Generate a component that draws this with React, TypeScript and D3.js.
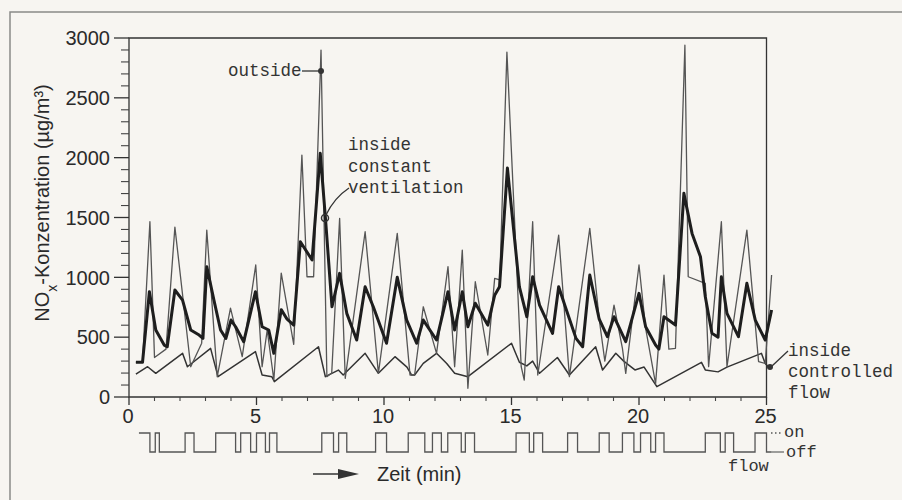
import React from "react";
import * as d3 from "d3";

// outside (thin, spiky)
const outsideT = [0.27, 0.53, 0.82, 1.0, 1.45, 1.8, 2.42, 2.85, 3.05, 3.46, 3.98, 4.44, 4.97, 5.22, 5.42, 5.68, 5.97, 6.46, 6.78, 6.98, 7.24, 7.53, 7.76, 7.95, 8.26, 8.48, 9.26, 9.78, 10.52, 11.02, 11.2, 11.54, 12.06, 12.51, 12.77, 13.07, 13.29, 13.58, 14.07, 14.34, 14.54, 14.82, 15.38, 15.5, 15.83, 16.03, 16.85, 17.27, 18.07, 18.44, 18.66, 19.02, 19.35, 19.48, 20.0, 20.26, 20.46, 20.65, 20.98, 21.17, 21.43, 21.8, 21.93, 22.6, 22.73, 23.23, 23.45, 24.23, 24.69, 24.95, 25.2];
const outsideV = [290, 290, 1465, 330, 400, 1420, 253, 450, 1395, 170, 743, 337, 1103, 253, 560, 142, 1035, 440, 2022, 1005, 1005, 2899, 170, 200, 1493, 156, 1381, 198, 1367, 184, 184, 754, 365, 1089, 253, 1228, 73, 963, 351, 991, 978, 2882, 253, 142, 1465, 184, 1353, 170, 1409, 650, 300, 768, 407, 198, 1103, 574, 337, 110, 1019, 400, 407, 2940, 1005, 950, 253, 1465, 253, 1395, 295, 280, 1019];

// inside, constant ventilation (thick)
const constT = [0.27, 0.53, 0.8, 1.05, 1.38, 1.5, 1.8, 2.1, 2.42, 2.75, 2.9, 3.05, 3.33, 3.59, 3.8, 4.0, 4.18, 4.5, 4.96, 5.22, 5.48, 5.68, 5.97, 6.2, 6.46, 6.72, 7.18, 7.5, 7.7, 7.96, 8.26, 8.54, 8.93, 9.26, 9.58, 10.1, 10.52, 10.89, 11.28, 11.54, 12.06, 12.51, 12.77, 13.07, 13.29, 13.58, 14.07, 14.34, 14.53, 14.84, 15.31, 15.6, 15.83, 16.1, 16.61, 16.85, 17.1, 17.53, 17.79, 18.07, 18.44, 18.76, 19.02, 19.48, 20.0, 20.26, 20.65, 20.78, 20.98, 21.43, 21.76, 22.08, 22.41, 22.6, 22.86, 23.1, 23.23, 23.45, 23.9, 24.23, 24.56, 24.95, 25.2];
const constV = [290, 290, 880, 560, 434, 420, 894, 810, 560, 518, 490, 1089, 810, 560, 490, 643, 587, 462, 880, 587, 560, 365, 730, 650, 601, 1297, 1145, 2036, 1506, 754, 1033, 699, 476, 921, 754, 449, 1000, 643, 449, 643, 476, 880, 560, 880, 587, 783, 601, 850, 921, 1913, 921, 671, 1005, 768, 532, 921, 760, 490, 420, 1019, 650, 504, 671, 462, 866, 587, 434, 400, 671, 601, 1702, 1367, 1172, 838, 532, 500, 1005, 699, 504, 950, 643, 476, 727];

// inside, controlled flow (sawtooth)
const ctrlT = [0.27, 0.73, 1.05, 2.1, 2.29, 3.2, 3.49, 4.96, 5.22, 5.6, 5.7, 7.43, 7.7, 8.21, 8.4, 9.26, 9.78, 10.43, 10.9, 11.08, 11.2, 11.54, 12.06, 12.46, 12.77, 13.29, 15.0, 15.31, 15.6, 15.83, 16.1, 16.8, 17.27, 18.3, 18.57, 19.09, 19.4, 19.84, 20.2, 20.7, 22.45, 22.6, 23.1, 23.45, 24.8, 24.95, 25.08];
const ctrlV = [192, 253, 198, 365, 253, 406, 170, 379, 184, 170, 128, 420, 170, 225, 184, 365, 198, 337, 250, 184, 184, 281, 365, 280, 198, 170, 449, 290, 260, 300, 198, 330, 184, 420, 226, 365, 300, 226, 250, 86, 290, 226, 210, 250, 365, 280, 250];

// flow "on" intervals (min)
const flowOn: [number, number][] = [
  [0.39, 0.82], [1.03, 1.19], [2.2, 2.55], [3.4, 4.18], [4.38, 4.77], [5.0, 5.35], [5.51, 5.8],
  [7.56, 8.02], [8.22, 8.54], [9.67, 10.1], [10.95, 11.6], [11.9, 12.25], [12.5, 13.03], [13.19, 13.55],
  [15.18, 15.7], [15.87, 16.22], [17.2, 17.59], [18.44, 18.83], [19.35, 19.8], [20.06, 20.46], [20.65, 20.98],
  [22.6, 23.19], [23.38, 23.71], [24.55, 25.0],
];

const yMajor = [0, 500, 1000, 1500, 2000, 2500, 3000];
const xMajor = [0, 5, 10, 15, 20, 25];

const sans = "'Liberation Sans', Arial, sans-serif";
const mono = "'Liberation Mono', 'DejaVu Sans Mono', monospace";

export default function App() {
  const x = d3.scaleLinear().domain([0, 25]).range([129, 766.5]);
  const y = d3.scaleLinear().domain([0, 3000]).range([397, 38]);
  const fy = d3.scaleLinear().domain([0, 1]).range([452, 433]);

  const line = d3.line<[number, number]>().x((d) => x(d[0])).y((d) => y(d[1]));
  const zip = (t: number[], v: number[]) => t.map((ti, i) => [ti, v[i]] as [number, number]);

  const flowPts: [number, number][] = [];
  flowOn.forEach(([a, b], i) => {
    if (i > 0) flowPts.push([a, 0]);
    flowPts.push([a, 1], [b, 1], [b, 0]);
  });
  flowPts.push([25.18, 0]);
  const flowLine = d3.line<[number, number]>().x((d) => x(d[0])).y((d) => fy(d[1]));

  const yMinor = d3.range(0, 3001, 100).filter((v) => v % 500 !== 0);
  const xMinor = d3.range(0, 26, 1).filter((v) => v % 5 !== 0);

  return (
    <svg width={902} height={500} style={{ position: "fixed", left: 0, top: 0 }}>
      <rect width={902} height={500} fill="#f7f5f1" />
      <path d="M10,500 L10,12 L902,12" fill="none" stroke="#8a8a88" strokeWidth={1.5} />

      {/* frame */}
      <path d={`M${x(0)},${y(0)} L${x(0)},${y(3000)} L${x(25)},${y(3000)} L${x(25)},${y(0)} Z`} fill="none" stroke="#333" strokeWidth={1.3} />

      {/* y ticks */}
      {yMajor.map((v) => (
        <g key={v}>
          <line x1={x(0) - 15} x2={x(0)} y1={y(v)} y2={y(v)} stroke="#333" strokeWidth={1.3} />
          <text x={110} y={y(v)} dy="0.36em" textAnchor="end" fontFamily={sans} fontSize={20} fill="#2a2a2a">{v}</text>
        </g>
      ))}
      {yMinor.map((v) => (
        <line key={v} x1={x(0) - 8} x2={x(0)} y1={y(v)} y2={y(v)} stroke="#444" strokeWidth={1.1} />
      ))}

      {/* x ticks */}
      {xMajor.map((t) => (
        <g key={t}>
          <line x1={x(t)} x2={x(t)} y1={y(0)} y2={y(0) + 8} stroke="#333" strokeWidth={1.3} />
          <text x={x(t) - 1} y={423} textAnchor="middle" fontFamily={sans} fontSize={20} fill="#2a2a2a">{t}</text>
        </g>
      ))}
      {xMinor.map((t) => (
        <line key={t} x1={x(t)} x2={x(t)} y1={y(0)} y2={y(0) + 4} stroke="#444" strokeWidth={1.1} />
      ))}

      {/* series */}
      <path d={line(zip(ctrlT, ctrlV)) || ""} fill="none" stroke="#333" strokeWidth={1.5} strokeLinejoin="round" />
      <path d={line(zip(outsideT, outsideV)) || ""} fill="none" stroke="#555" strokeWidth={1.3} strokeLinejoin="round" />
      <path d={line(zip(constT, constV)) || ""} fill="none" stroke="#1e1e1e" strokeWidth={3} strokeLinejoin="round" />

      {/* flow signal */}
      <path d={flowLine(flowPts) || ""} fill="none" stroke="#555" strokeWidth={1.3} />
      <line x1={771} x2={783} y1={fy(1)} y2={fy(1)} stroke="#555" strokeWidth={1.3} strokeDasharray="1.5,2.5" />
      <line x1={771} x2={784} y1={fy(0)} y2={fy(0)} stroke="#555" strokeWidth={1.1} />
      <text x={784} y={437} fontFamily={mono} fontSize={17} fill="#333">on</text>
      <text x={786} y={457} fontFamily={mono} fontSize={17} fill="#333">off</text>
      <text x={728} y={471} fontFamily={mono} fontSize={17} fill="#333">flow</text>

      {/* annotations */}
      <text x={228} y={76} fontFamily={mono} fontSize={17.5} fill="#333">outside</text>
      <line x1={302} x2={319} y1={71} y2={71} stroke="#333" strokeWidth={1.3} />
      <circle cx={x(7.53)} cy={71} r={3} fill="#333" />

      <text fontFamily={mono} fontSize={17.5} fill="#333">
        <tspan x={348} y={150}>inside</tspan>
        <tspan x={348} y={172}>constant</tspan>
        <tspan x={348} y={193}>ventilation</tspan>
      </text>
      <path d="M349,188 Q334,198 326,215" fill="none" stroke="#333" strokeWidth={1.3} />
      <circle cx={325} cy={218} r={3.5} fill="none" stroke="#333" strokeWidth={1.5} />

      <text fontFamily={mono} fontSize={17.5} fill="#333">
        <tspan x={788} y={356}>inside</tspan>
        <tspan x={788} y={377}>controlled</tspan>
        <tspan x={788} y={398}>flow</tspan>
      </text>
      <line x1={788} x2={772} y1={351} y2={366} stroke="#333" strokeWidth={1.3} />
      <circle cx={770} cy={367} r={3} fill="#333" />

      {/* axis titles */}
      <text transform="translate(49,203) rotate(-90)" textAnchor="middle" fontFamily={sans} fontSize={20} fill="#2a2a2a">
        NO<tspan baselineShift="sub" fontSize={14}>x</tspan>-Konzentration (µg/m³)
      </text>
      <line x1={313} x2={342} y1={474} y2={474} stroke="#333" strokeWidth={1.5} />
      <path d="M338,469 L359,474 L338,479 Z" fill="#333" />
      <text x={377} y={481} fontFamily={sans} fontSize={20} fill="#2a2a2a">Zeit (min)</text>
    </svg>
  );
}
